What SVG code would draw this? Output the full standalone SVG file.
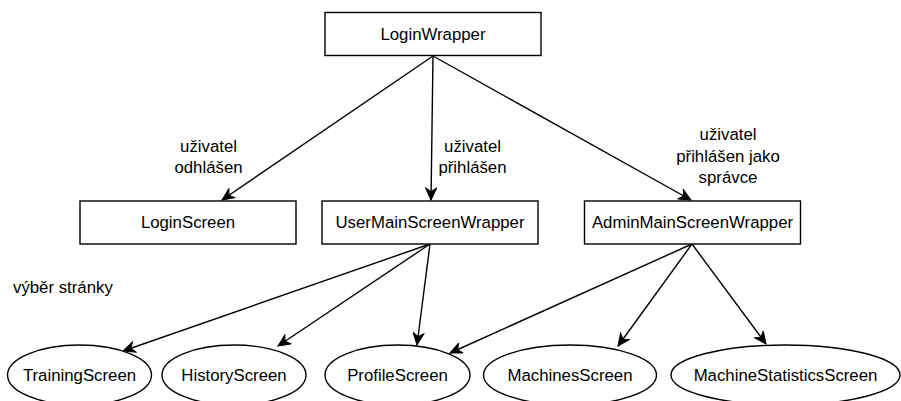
<svg xmlns="http://www.w3.org/2000/svg" width="901" height="401" viewBox="0 0 901 401">
<style>
.box{fill:#fff;stroke:#000;stroke-width:1.4}
.t{font-family:"Liberation Sans",Arial,Helvetica,sans-serif;font-size:16.8px;fill:#000;text-anchor:middle}
.lbl{font-family:"Liberation Sans",Arial,Helvetica,sans-serif;font-size:16.8px;fill:#000;text-anchor:middle}
.edge{fill:none;stroke:#000;stroke-width:1.4;marker-end:url(#arr)}
</style>
<defs>
<marker id="arr" markerUnits="userSpaceOnUse" markerWidth="14" markerHeight="12" refX="13" refY="6" orient="auto" viewBox="0 0 14 12">
<path d="M13,6 L1,0.5 L4.6,6 L1,11.5 Z" fill="#000" stroke="#000" stroke-width="1"/>
</marker>
</defs>
<rect width="901" height="401" fill="#fff"/>
<g id="connectors">
<line class="edge" x1="433" y1="56" x2="222" y2="200"/>
<line class="edge" x1="433" y1="56" x2="431" y2="200"/>
<line class="edge" x1="433" y1="56" x2="691" y2="200"/>
<line class="edge" x1="430" y1="244" x2="123" y2="351"/>
<line class="edge" x1="430" y1="244" x2="278" y2="346"/>
<line class="edge" x1="430" y1="244" x2="417" y2="345"/>
<line class="edge" x1="692" y1="244" x2="450" y2="353"/>
<line class="edge" x1="692" y1="244" x2="618" y2="346"/>
<line class="edge" x1="692" y1="244" x2="766" y2="344"/>
</g>
<g id="labels">
<text class="lbl" x="208.5" y="152.3">uživatel</text>
<text class="lbl" x="208.5" y="173.3">odhlášen</text>
<text class="lbl" x="472.5" y="151.7">uživatel</text>
<text class="lbl" x="472.5" y="172.7">přihlášen</text>
<text class="lbl" x="728" y="140">uživatel</text>
<text class="lbl" x="728" y="161.5">přihlášen jako</text>
<text class="lbl" x="728" y="183">správce</text>
<text class="lbl" x="13" y="293" style="text-anchor:start">výběr stránky</text>
</g>
<g id="LoginWrapper">
<rect class="box" x="325" y="12.5" width="216" height="43"/>
<text class="t" x="433" y="39.5">LoginWrapper</text>
</g>
<g id="LoginScreen">
<rect class="box" x="80" y="201" width="216" height="43"/>
<text class="t" x="188" y="228">LoginScreen</text>
</g>
<g id="UserMainScreenWrapper">
<rect class="box" x="322" y="201" width="216" height="43"/>
<text class="t" x="430" y="228">UserMainScreenWrapper</text>
</g>
<g id="AdminMainScreenWrapper">
<rect class="box" x="584.5" y="201" width="216" height="43"/>
<text class="t" x="692.5" y="228">AdminMainScreenWrapper</text>
</g>
<g id="TrainingScreen">
<ellipse class="box" cx="79.5" cy="375" rx="72" ry="30"/>
<text class="t" x="79.5" y="380.5">TrainingScreen</text>
</g>
<g id="HistoryScreen">
<ellipse class="box" cx="234" cy="375" rx="72" ry="30"/>
<text class="t" x="234" y="380.5">HistoryScreen</text>
</g>
<g id="ProfileScreen">
<ellipse class="box" cx="397.5" cy="375" rx="72.5" ry="30"/>
<text class="t" x="397.5" y="380.5">ProfileScreen</text>
</g>
<g id="MachinesScreen">
<ellipse class="box" cx="570" cy="375" rx="86.5" ry="30"/>
<text class="t" x="570" y="380.5">MachinesScreen</text>
</g>
<g id="MachineStatisticsScreen">
<ellipse class="box" cx="785.5" cy="375" rx="114.5" ry="30"/>
<text class="t" x="785.5" y="380.5">MachineStatisticsScreen</text>
</g>
</svg>
